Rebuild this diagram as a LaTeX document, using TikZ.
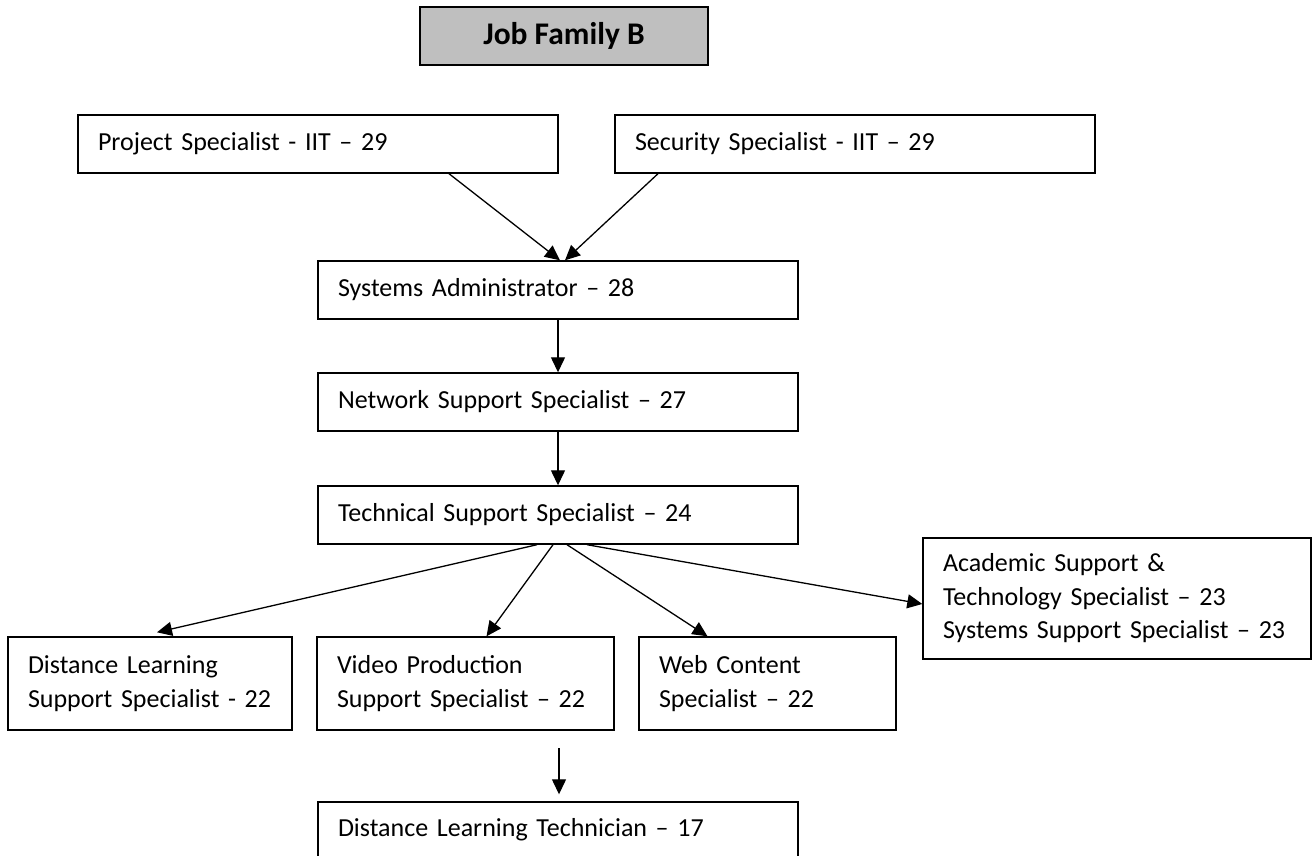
\documentclass[tikz,border=0pt]{standalone}
\usepackage{fontspec}
\setmainfont{Carlito}
\usetikzlibrary{arrows.meta}

\begin{document}
\begin{tikzpicture}[x=1pt,y=-1pt]
                \tikzstyle{job}=[draw, line width=1.4pt, inner xsep=20pt, inner ysep=0pt, align=left, font=\fontsize{26}{33.5}\selectfont]
                \tikzstyle{arr}=[line width=1.3pt, -{Triangle[length=15pt,width=14pt]}]

                \useasboundingbox (0,0) rectangle (1315,856);

                \node[draw, line width=2pt, fill=black!25, minimum width=288pt, minimum height=58pt, font=\fontsize{31.5}{36}\selectfont\bfseries] (t) at (564,36) {Job Family B};

                \node[job, text width=440pt, minimum height=58pt] (a) at (318,144) {Project Specialist - IIT – 29};
                \node[job, text width=440pt, minimum height=58pt] (b) at (855,144) {Security Specialist - IIT – 29};
                \node[job, text width=440pt, minimum height=58pt] (c) at (558,290) {Systems Administrator – 28};
                \node[job, text width=440pt, minimum height=58pt] (d) at (558,402) {Network Support Specialist – 27};
                \node[job, text width=440pt, minimum height=58pt] (e) at (558,515) {Technical Support Specialist – 24};
                \node[job, text width=244pt, minimum height=93pt] (f) at (150,683.5) {Distance Learning\\Support Specialist - 22};
                \node[job, text width=257pt, minimum height=93pt] (g) at (465.5,683.5) {Video Production\\Support Specialist – 22};
                \node[job, text width=217pt, minimum height=93pt] (h) at (767.5,683.5) {Web Content\\Specialist – 22};
                \node[job, text width=348pt, minimum height=121pt] (i) at (1117,598.5) {Academic Support \&\\Technology Specialist – 23\\Systems Support Specialist – 23};
                \node[job, text width=440pt, minimum height=56pt] (j) at (558,830) {Distance Learning Technician – 17};

                \draw[arr] ([xshift=131pt]a.south) -- ([xshift=2pt]c.north);
                \draw[arr] ([xshift=-197pt]b.south) -- ([xshift=7pt]c.north);
                \draw[arr] (c) -- (d);
                \draw[arr] (d) -- (e);
                \draw[arr] ([xshift=-21pt]e.south) -- ([xshift=7pt,yshift=4pt]f.north);
                \draw[arr] ([xshift=-5pt]e.south) -- ([xshift=21pt]g.north);
                \draw[arr] ([xshift=9pt]e.south) -- ([xshift=-60pt]h.north);
                \draw[arr] ([xshift=29pt]e.south) -- ([yshift=-5.5pt]i.west);

                \coordinate (k) at (559,748);
                \draw[arr] (k) -- ([xshift=1pt,yshift=7pt]j.north);
            \end{tikzpicture}
\end{document}
